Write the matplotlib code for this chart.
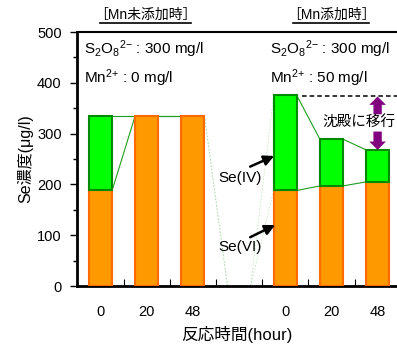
import matplotlib
matplotlib.use("Agg")
import matplotlib.pyplot as plt
import matplotlib.transforms as mtrans
from matplotlib.patches import FancyArrowPatch
import numpy as np

plt.rcParams['font.family'] = ['Liberation Sans', 'Noto Sans CJK JP']
plt.rcParams['mathtext.default'] = 'regular'

# --- dados ---
time_labels = ["0", "20", "48"]
slots_none = [0, 1, 2]
slots_mn = [4, 5, 6]
se6_none = [188, 335, 335]     # Se(VI)
total_none = [335, 335, 335]   # Se(VI)+Se(IV)
se6_mn = [188, 197, 205]
total_mn = [375, 289, 268]

ORANGE = "#FF9900"
ORANGE_E = "#FF6A00"
GREEN = "#00FF00"
GREEN_E = "#008A00"
LINE_G = "#1E9E1E"
PURPLE = "#800080"

W = 0.5

fig = plt.figure(figsize=(3.97, 3.46), dpi=100)
ax = fig.add_axes([77/397, 1-286/346, 320/397, 254/346])

def draw_group(slots, se6, total):
    se4 = [t - v for t, v in zip(total, se6)]
    ax.bar(slots, se6, width=W, color=ORANGE, edgecolor=ORANGE_E, linewidth=1.5, zorder=3)
    for x, b, h in zip(slots, se6, se4):
        if h > 0:
            ax.bar(x, h, bottom=b, width=W, color=GREEN, edgecolor=GREEN_E, linewidth=1.5, zorder=3)
    # linhas de série
    for i in range(len(slots) - 1):
        x0, x1 = slots[i] + W/2, slots[i+1] - W/2
        ax.plot([x0, x1], [total[i], total[i+1]], color=LINE_G, lw=0.8, zorder=2)
        ax.plot([x0, x1], [se6[i], se6[i+1]], color=LINE_G, lw=0.8, zorder=2)

draw_group(slots_none, se6_none, total_none)
draw_group(slots_mn, se6_mn, total_mn)

# linhas fracas atravessando a lacuna (slot 3 = 0)
gap = 3
for a, b in [(total_none[-1], total_mn[0]), (se6_none[-1], se6_mn[0])]:
    ax.plot([slots_none[-1] + W/2, gap - W/2], [a, 0], color=LINE_G, lw=0.6, alpha=0.25, ls=(0, (2, 2)), zorder=2)
    ax.plot([gap + W/2, slots_mn[0] - W/2], [0, b], color=LINE_G, lw=0.6, alpha=0.25, ls=(0, (2, 2)), zorder=2)

ax.set_xlim(-0.51, 6.42)
ax.set_ylim(0, 500)
ax.set_yticks(np.arange(0, 501, 100))
ax.set_yticks(np.arange(50, 500, 100), minor=True)
ax.set_xticks(slots_none + slots_mn)
ax.set_xticklabels(time_labels + time_labels)
ax.set_xticks(np.arange(0.5, 6, 1), minor=True)
ax.tick_params(axis='x', which='major', length=0, pad=14, labelsize=10.5)
ax.tick_params(axis='x', which='minor', direction='in', length=5, width=0.8)
ax.tick_params(axis='y', which='both', direction='out', labelsize=10.5, pad=6)
ax.tick_params(axis='y', which='major', length=5, width=1)
ax.tick_params(axis='y', which='minor', length=3, width=1)
ax.spines['right'].set_visible(False)
ax.spines['left'].set_linewidth(2)
ax.spines['bottom'].set_linewidth(2)
ax.spines['top'].set_linewidth(1.5)

ax.set_ylabel("Se濃度(μg/l)", fontsize=11.5, labelpad=3)
ax.set_xlabel("反応時間(hour)", fontsize=12, labelpad=5)

# condições
ax.text(-0.36, 466, "S$_2$O$_8$$^{2{-}}$ : 300 mg/l", fontsize=11, va='center', ha='left')
ax.text(-0.36, 409, "Mn$^{2{+}}$ : 0 mg/l", fontsize=11, va='center', ha='left')
ax.text(3.67, 466, "S$_2$O$_8$$^{2{-}}$ : 300 mg/l", fontsize=11, va='center', ha='left')
ax.text(3.67, 409, "Mn$^{2{+}}$ : 50 mg/l", fontsize=11, va='center', ha='left')

# títulos sublinhados
tr = mtrans.blended_transform_factory(ax.transData, ax.transAxes)
ax.text(0.96, 1.068, "［Mn未添加時］", transform=tr, ha='center', va='center', fontsize=10, clip_on=False)
ax.plot([-0.01, 1.96], [1.036, 1.036], transform=tr, color='black', lw=1.2, clip_on=False)
ax.text(4.99, 1.068, "［Mn添加時］", transform=tr, ha='center', va='center', fontsize=10, clip_on=False)
ax.plot([4.17, 5.82], [1.036, 1.036], transform=tr, color='black', lw=1.2, clip_on=False)

# linha tracejada no total inicial
ax.plot([4.36, 6.42], [total_mn[0], total_mn[0]], color='black', lw=1.1, ls=(0, (3, 2)), zorder=4)

# setas roxas (tamanhos em pontos)
pstyle = "simple,head_width=12,head_length=6,tail_width=6"
for (y0, y1) in [(338, 373), (304, 268)]:
    ax.add_patch(FancyArrowPatch((6, y0), (6, y1), arrowstyle=pstyle, mutation_scale=1,
                                 shrinkA=0, shrinkB=0, color=PURPLE, lw=0, zorder=5))
ax.text(5.6, 321, "沈殿に移行", ha='center', va='center', fontsize=10.5, zorder=6,
        bbox=dict(fc='white', ec='none', pad=0.5))

# rótulos Se(IV), Se(VI)
bstyle = dict(arrowstyle="-|>,head_width=0.3,head_length=0.6", color='black', lw=1.8,
              shrinkA=0, shrinkB=0)
ax.annotate("", xy=(3.76, 256), xytext=(3.24, 235), arrowprops=bstyle)
ax.text(3.02, 213, "Se(IV)", ha='center', va='center', fontsize=11)
ax.annotate("", xy=(3.78, 120), xytext=(3.24, 96), arrowprops=bstyle)
ax.text(3.02, 77, "Se(VI)", ha='center', va='center', fontsize=11)

fig.savefig("out.png", dpi=100)
